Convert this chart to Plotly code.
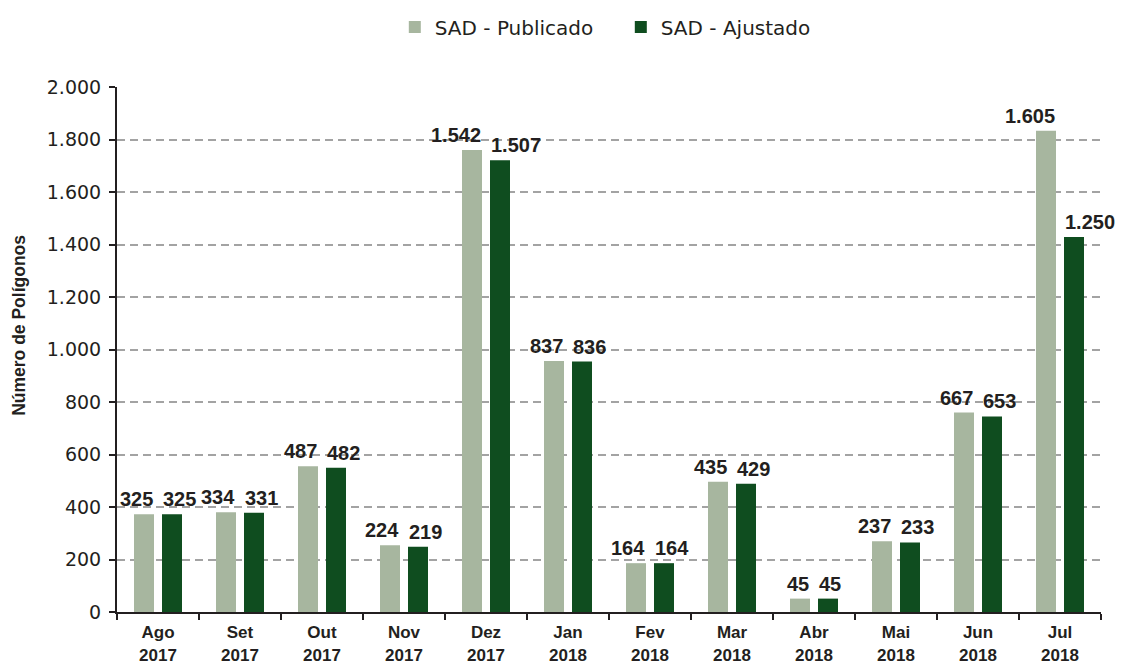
import plotly.graph_objects as go

months = ["Ago", "Set", "Out", "Nov", "Dez", "Jan", "Fev", "Mar", "Abr", "Mai", "Jun", "Jul"]
years = ["2017", "2017", "2017", "2017", "2017", "2018", "2018", "2018", "2018", "2018", "2018", "2018"]
categories = [f"{m}<br>{y}" for m, y in zip(months, years)]

# bar heights as drawn in the picture
publicado_height = [372, 380, 555, 254, 1760, 956, 186, 496, 51, 270, 760, 1833]
ajustado_height = [372, 378, 550, 249, 1721, 954, 186, 489, 51, 265, 745, 1429]

# printed value labels
publicado_labels = ["325", "334", "487", "224", "1.542", "837", "164", "435", "45", "237", "667", "1.605"]
ajustado_labels = ["325", "331", "482", "219", "1.507", "836", "164", "429", "45", "233", "653", "1.250"]

y_ticks = [0, 200, 400, 600, 800, 1000, 1200, 1400, 1600, 1800, 2000]

LIGHT = "#a7b69f"
DARK = "#0f4d1f"
INK = "#231f20"

fig = go.Figure()
fig.add_trace(go.Bar(x=categories, y=publicado_height, name="SAD - Publicado",
                     marker=dict(color=LIGHT, line=dict(width=0))))
fig.add_trace(go.Bar(x=categories, y=ajustado_height, name="SAD - Ajustado",
                     marker=dict(color=DARK, line=dict(width=0))))

label_font = dict(family="Liberation Sans", size=20, color=INK, weight="bold")
annotations = []
for cat, h, t in zip(categories, publicado_height, publicado_labels):
    annotations.append(dict(x=cat, y=h, text=t, showarrow=False, xanchor="right", yanchor="bottom",
                            xshift=-3, yshift=2, font=label_font))
for cat, h, t in zip(categories, ajustado_height, ajustado_labels):
    annotations.append(dict(x=cat, y=h, text=t, showarrow=False, xanchor="left", yanchor="bottom",
                            xshift=3, yshift=2, font=label_font))
annotations.append(dict(x=-0.0996, y=0.547, xref="paper", yref="paper", text="Número de Polígonos",
                        textangle=-90, showarrow=False, xanchor="center", yanchor="middle",
                        font=dict(family="Liberation Sans", size=17.5, color=INK, weight="bold")))

fig.update_layout(
    width=1115, height=655,
    margin=dict(l=109, r=22, t=79, b=51, autoexpand=False),
    paper_bgcolor="white", plot_bgcolor="white",
    barmode="group", bargap=0.317, bargroupgap=0.286,
    separators=",.",
    showlegend=True,
    legend=dict(orientation="h", xref="paper", x=0.512, xanchor="center",
                yref="container", y=0.971, yanchor="middle",
                font=dict(family="DejaVu Sans", size=20, color=INK), itemwidth=30,
                entrywidth=181, entrywidthmode="pixels",
                traceorder="normal"),
    annotations=annotations,
)
fig.update_xaxes(
    type="category", range=[-0.5, 11.5], automargin=False,
    showline=True, linecolor=INK, linewidth=2,
    ticks="outside", tickson="boundaries", ticklen=6, tickwidth=2, tickcolor=INK,
    ticklabelstandoff=4,
    tickfont=dict(family="Liberation Sans", size=17, color=INK, weight="bold"),
    showgrid=False, zeroline=False,
)
fig.update_yaxes(
    range=[0, 2000], tickvals=y_ticks, tickformat=",d", automargin=False,
    showline=True, linecolor=INK, linewidth=2,
    ticks="outside", ticklen=6, tickwidth=1.5, tickcolor=INK,
    ticklabelstandoff=4,
    tickfont=dict(family="DejaVu Sans", size=19, color=INK),
    showgrid=True, gridcolor="#a3a3a3", gridwidth=1.5, griddash="8px,5px",
    zeroline=False,
)

fig.write_html("out.html")
